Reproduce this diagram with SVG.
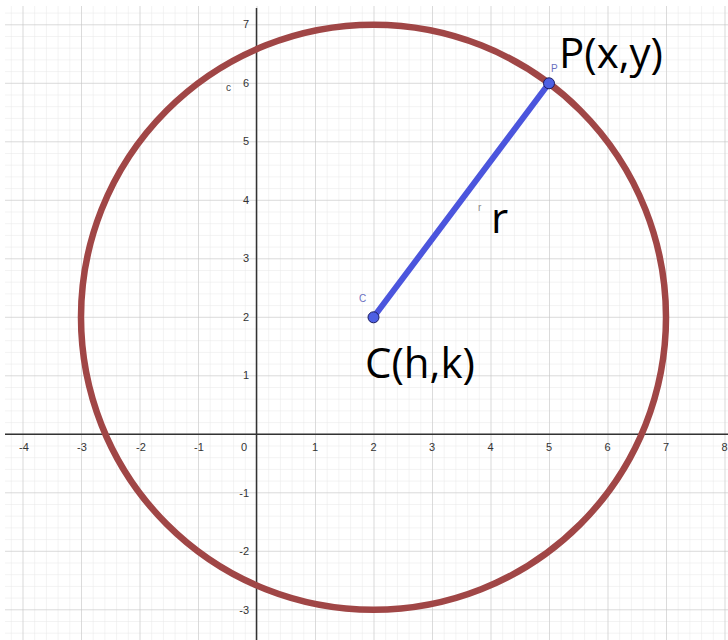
<svg xmlns="http://www.w3.org/2000/svg" width="728" height="640" viewBox="0 0 728 640">
<defs>
<pattern id="minor" x="22.5" y="24.3" width="11.7" height="11.7" patternUnits="userSpaceOnUse">
<path d="M0 0V11.7M0 0H11.7" fill="none" stroke="#e8e8e8" stroke-width="1"/>
</pattern>
<pattern id="major" x="22.5" y="24.3" width="58.5" height="58.5" patternUnits="userSpaceOnUse">
<path d="M0 0V58.5M0 0H58.5" fill="none" stroke="#c4c4c4" stroke-width="1"/>
</pattern>
</defs>
<style>
.tick{font-family:"Liberation Sans",Arial,sans-serif;font-size:11px;fill:#333}
.tx{text-anchor:middle}
.ty{text-anchor:end}
.big{font-family:"Open Sans","Noto Sans",sans-serif;font-size:42px;fill:#000}
.small{font-family:"Liberation Sans",Arial,sans-serif;font-size:10px}
</style>
<rect width="728" height="640" fill="#fff"/>
<g id="grid">
<rect x="5" y="6" width="723" height="634" fill="url(#minor)"/>
<rect x="5" y="6" width="723" height="634" fill="url(#major)"/>
</g>
<g id="axes" stroke="#333" stroke-width="1.5">
<line x1="5" y1="434.3" x2="728" y2="434.3"/>
<line x1="256.5" y1="8" x2="256.5" y2="640"/>
</g>
<g id="ticks" class="tick">
<text class="tx" x="24" y="451">-4</text>
<text class="tx" x="82" y="451">-3</text>
<text class="tx" x="141" y="451">-2</text>
<text class="tx" x="199" y="451">-1</text>
<text class="tx" x="244" y="451">0</text>
<text class="tx" x="315" y="451">1</text>
<text class="tx" x="373.5" y="451">2</text>
<text class="tx" x="432" y="451">3</text>
<text class="tx" x="490.5" y="451">4</text>
<text class="tx" x="549" y="451">5</text>
<text class="tx" x="607.5" y="451">6</text>
<text class="tx" x="666" y="451">7</text>
<text class="tx" x="724.5" y="451">8</text>
<text class="ty" x="249" y="28">7</text>
<text class="ty" x="249" y="87">6</text>
<text class="ty" x="249" y="145">5</text>
<text class="ty" x="249" y="204">4</text>
<text class="ty" x="249" y="262">3</text>
<text class="ty" x="249" y="321">2</text>
<text class="ty" x="249" y="379">1</text>
<text class="ty" x="249" y="497">-1</text>
<text class="ty" x="249" y="555">-2</text>
<text class="ty" x="249" y="614">-3</text>
</g>
<g id="circle-c">
<circle cx="373.5" cy="317.3" r="292.5" fill="none" stroke="#a04646" stroke-width="6.5"/>
<text class="small" x="226" y="91" fill="#444">c</text>
</g>
<g id="connectors">
<line id="r" x1="373.5" y1="317.3" x2="549" y2="83.3" stroke="#4b55dd" stroke-width="6" stroke-linecap="round"/>
</g>
<g id="segment-label">
<text class="small" x="478" y="211" fill="#888" font-size="9">r</text>
<text class="big" x="491" y="233">r</text>
</g>
<g id="point-C">
<circle cx="373.5" cy="317.3" r="5.5" fill="#4d5fe3" stroke="#1c1c60" stroke-width="1"/>
<text class="small" x="359" y="302" fill="#6a70c0">C</text>
<text class="big" x="365" y="378">C(h,k)</text>
</g>
<g id="point-P">
<circle cx="549" cy="83.3" r="5.5" fill="#4d5fe3" stroke="#1c1c60" stroke-width="1"/>
<text class="small" x="551" y="72" fill="#6a70c0" font-size="8">P</text>
<text class="big" x="559" y="68">P(x,y)</text>
</g>
</svg>
